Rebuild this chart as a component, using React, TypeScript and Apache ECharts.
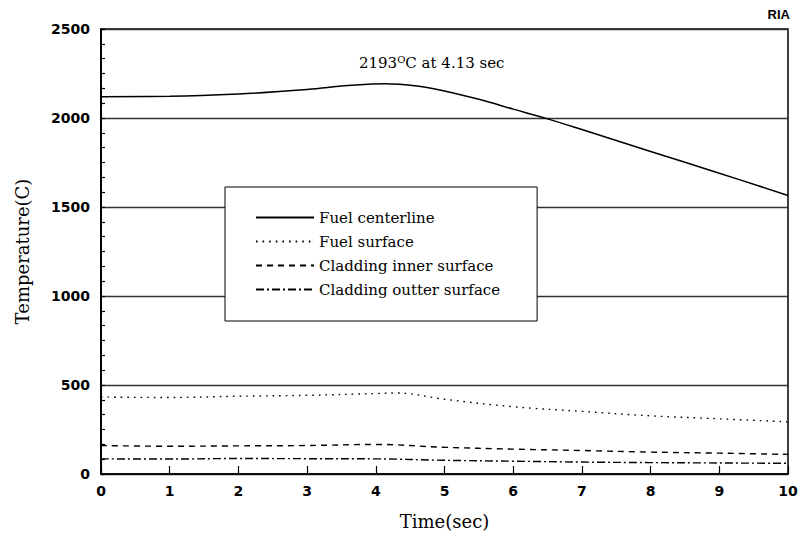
import React, { useEffect, useRef } from "react";
import * as echarts from "echarts";

const xTicks = [0, 1, 2, 3, 4, 5, 6, 7, 8, 9, 10];
const yTicks = [0, 500, 1000, 1500, 2000, 2500];

const fuelCenterline: [number, number][] = [
  [0, 2120], [1, 2122], [2, 2135], [3, 2160], [3.6, 2182], [4.13, 2193], [4.6, 2180],
  [5, 2152], [5.5, 2105], [6, 2050], [6.5, 1995], [7, 1935], [8, 1812], [9, 1690], [10, 1565],
];
const fuelSurface: [number, number][] = [
  [0, 432], [1, 430], [2, 437], [3, 442], [4, 452], [4.3, 455], [5, 420], [6, 378],
  [7, 352], [8, 327], [9, 310], [10, 293],
];
const claddingInner: [number, number][] = [
  [0, 160], [1, 156], [2, 158], [3, 160], [4, 166], [5, 150], [6, 140], [7, 132],
  [8, 123], [9, 117], [10, 110],
];
const claddingOuter: [number, number][] = [
  [0, 85], [1, 84], [2, 87], [3, 86], [4, 85], [5, 77], [6, 72], [7, 67], [8, 64],
  [9, 62], [10, 60],
];
const peak: [number, number] = [4.13, 2193];

const serif = "'DejaVu Serif', 'Liberation Serif', serif";
const sans = "'DejaVu Sans', 'Liberation Sans', Arial, sans-serif";
const arial = "'Liberation Sans', Arial, sans-serif";

export default function App() {
  const ref = useRef<HTMLDivElement>(null);
  useEffect(() => {
    document.body.style.margin = "0";
    const chart = echarts.init(ref.current!, null, { renderer: "svg" });
    const mk = (name: string, data: [number, number][], type: any, width = 1.4) => ({
      name,
      type: "line",
      data,
      smooth: 0.4,
      symbol: "none",
      showSymbol: false,
      lineStyle: { color: "#000", width, type },
      itemStyle: { color: "#000" },
    });
    chart.setOption({
      animation: false,
      backgroundColor: "#fff",
      title: {
        text: "RIA",
        right: 9,
        top: 3,
        textStyle: { fontFamily: arial, fontWeight: "bold", fontSize: 13, color: "#000" },
      },
      grid: {
        left: 101,
        right: 16,
        top: 29,
        bottom: 69,
        show: true,
        borderColor: "#000",
        borderWidth: 1.5,
        backgroundColor: "transparent",
      },
      legend: {
        orient: "vertical",
        left: 225,
        top: 187,
        padding: [23, 37, 24, 30],
        itemWidth: 58,
        itemHeight: 14,
        itemGap: 9,
        backgroundColor: "#fff",
        borderColor: "#000",
        borderWidth: 1,
        itemStyle: { opacity: 0 },
        textStyle: { fontFamily: serif, fontSize: 15, color: "#000" },
        data: ["Fuel centerline", "Fuel surface", "Cladding inner surface", "Cladding outter surface"],
      },
      xAxis: {
        type: "value",
        min: xTicks[0],
        max: xTicks[xTicks.length - 1],
        interval: 1,
        name: "Time(sec)",
        nameLocation: "middle",
        nameGap: 38,
        nameTextStyle: { fontFamily: serif, fontSize: 18, color: "#000" },
        axisLine: { show: true, lineStyle: { color: "#000", width: 1.5 } },
        axisTick: { show: true, inside: true, length: 8, lineStyle: { color: "#000", width: 1.2 } },
        axisLabel: { fontFamily: sans, fontWeight: "bold", fontSize: 14, color: "#000", margin: 10 },
        splitLine: { show: false },
      },
      yAxis: {
        type: "value",
        min: yTicks[0],
        max: yTicks[yTicks.length - 1],
        interval: 500,
        name: "Temperature(C)",
        nameLocation: "middle",
        nameGap: 70,
        nameRotate: 90,
        nameTextStyle: { fontFamily: serif, fontSize: 18, color: "#000" },
        axisLine: { show: true, lineStyle: { color: "#000", width: 2 } },
        axisTick: { show: true, inside: true, length: 4, lineStyle: { color: "#000", width: 1.2 } },
        minorTick: { show: true, splitNumber: 6, length: 4, lineStyle: { color: "#000", width: 1.2 } },
        axisLabel: {
          fontFamily: sans,
          fontWeight: "bold",
          fontSize: 14,
          color: "#000",
          margin: 11,
          formatter: (v: number) => String(v),
        },
        splitLine: { show: true, lineStyle: { color: "#333", width: 1.3 } },
      },
      series: [
        {
          ...mk("Fuel centerline", fuelCenterline, "solid", 1.5),
          markPoint: {
            symbol: "circle",
            symbolSize: 0,
            data: [{ coord: peak }],
            label: {
              show: true,
              position: "inside",
              offset: [47, -21],
              formatter: "{a|2193}{s|O}{a|C at 4.13 sec}",
              rich: {
                a: { fontFamily: serif, fontSize: 15, color: "#000" },
                s: { fontFamily: serif, fontSize: 10, color: "#000", padding: [0, 0, 7, 0] },
              },
            },
          },
        },
        mk("Fuel surface", fuelSurface, [1.6, 5]),
        mk("Cladding inner surface", claddingInner, [6, 5]),
        mk("Cladding outter surface", claddingOuter, [8, 3, 2, 3]),
      ],
    });
    return () => chart.dispose();
  }, []);
  return <div ref={ref} style={{ width: 804, height: 543 }} />;
}
